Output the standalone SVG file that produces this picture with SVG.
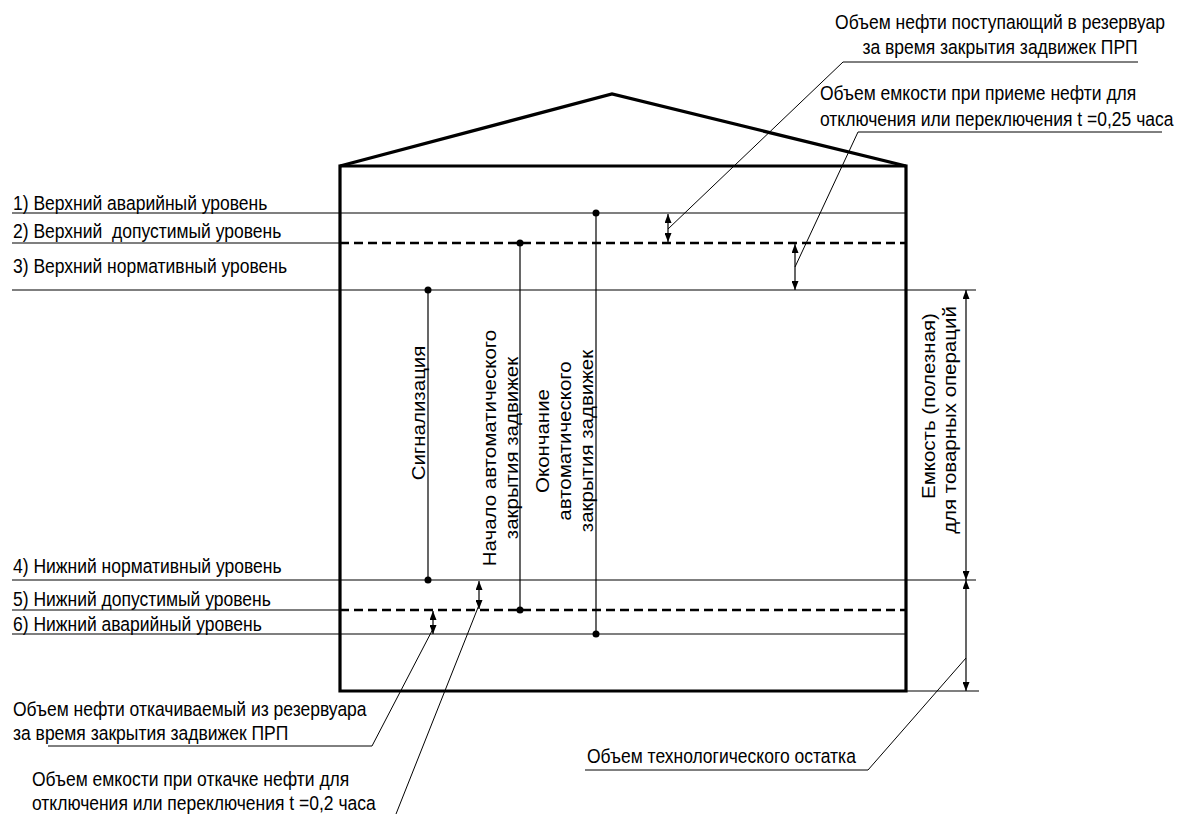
<svg xmlns="http://www.w3.org/2000/svg" width="1184" height="814" viewBox="0 0 1184 814">
<style>
text{font-family:"Liberation Sans",Arial,sans-serif;font-size:17.5px;fill:#000}
.thick{fill:none;stroke:#000;stroke-width:3.2;stroke-linejoin:miter}
.thin{fill:none;stroke:#000;stroke-width:1.2}
.dash{fill:none;stroke:#000;stroke-width:2.6;stroke-dasharray:9 5}
.lead{fill:none;stroke:#000;stroke-width:1}
.dim{fill:none;stroke:#000;stroke-width:1.2;marker-start:url(#ah);marker-end:url(#ah)}
.dot{fill:#000}
</style>
<defs>
<marker id="ah" viewBox="0 0 9 7" refX="9" refY="3.5" markerWidth="9" markerHeight="7" markerUnits="userSpaceOnUse" orient="auto-start-reverse">
<path d="M0,0 L9,3.5 L0,7 z" fill="#000"/>
</marker>
</defs>
<rect width="1184" height="814" fill="#fff"/>
<g id="tank">
<polyline class="thick" points="340,166 612,94 906,166"/>
<path class="thick" d="M340,691 V166 H906 V691 Z"/>
</g>
<g id="levels">
<line class="thin" x1="12" y1="213" x2="906" y2="213"/>
<line class="thin" x1="12" y1="243" x2="340" y2="243"/>
<line class="dash" x1="340" y1="243" x2="906" y2="243"/>
<line class="thin" x1="12" y1="290" x2="976" y2="290"/>
<line class="thin" x1="12" y1="580" x2="976" y2="580"/>
<line class="thin" x1="12" y1="610" x2="340" y2="610"/>
<line class="dash" x1="340" y1="610" x2="906" y2="610"/>
<line class="thin" x1="12" y1="634" x2="906" y2="634"/>
<line class="thin" x1="906" y1="691" x2="979" y2="691"/>
</g>
<g id="connectors">
<line class="thin" x1="428" y1="290" x2="428" y2="580"/>
<line class="thin" x1="520" y1="243" x2="520" y2="610"/>
<line class="thin" x1="596" y1="213" x2="596" y2="634"/>
<circle class="dot" cx="428" cy="290" r="3.5"/>
<circle class="dot" cx="428" cy="580" r="3.5"/>
<circle class="dot" cx="520" cy="243" r="3.5"/>
<circle class="dot" cx="520" cy="610" r="3.5"/>
<circle class="dot" cx="596" cy="213" r="3.5"/>
<circle class="dot" cx="596" cy="634" r="3.5"/>
<line class="dim" x1="668" y1="214" x2="668" y2="242"/>
<line class="dim" x1="795" y1="244" x2="795" y2="290"/>
<line class="dim" x1="479" y1="581" x2="479" y2="609"/>
<line class="dim" x1="433" y1="611" x2="433" y2="634"/>
<line class="dim" x1="966" y1="290" x2="966" y2="580"/>
<line class="dim" x1="966" y1="580" x2="966" y2="691"/>
<polyline class="lead" points="1138,62 843,62 668,229"/>
<polyline class="lead" points="1162,132 858,132 795,267"/>
<polyline class="lead" points="48,746 372,746 435,625"/>
<polyline class="lead" points="396,814 479,605"/>
<polyline class="lead" points="585,770 868,770 966,658"/>
</g>
<g id="level-labels">
<text transform="translate(13,210) scale(1,1.17)">1) Верхний аварийный уровень</text>
<text transform="translate(13,238) scale(1,1.17)" xml:space="preserve">2) Верхний  допустимый уровень</text>
<text transform="translate(13,273) scale(1,1.17)">3) Верхний нормативный уровень</text>
<text transform="translate(13,573) scale(1,1.17)">4) Нижний нормативный уровень</text>
<text transform="translate(13,606) scale(1,1.17)">5) Нижний допустимый уровень</text>
<text transform="translate(13,631) scale(1,1.17)">6) Нижний аварийный уровень</text>
</g>
<g id="label-inflow">
<text transform="translate(1000,29) scale(1,1.17)" text-anchor="middle">Объем нефти поступающий в резервуар</text>
<text transform="translate(1000,54) scale(1,1.17)" text-anchor="middle">за время закрытия задвижек ПРП</text>
</g>
<g id="label-intake">
<text transform="translate(820,100) scale(1,1.17)">Объем емкости при приеме нефти для</text>
<text transform="translate(820,126) scale(1,1.17)">отключения или переключения t =0,25 часа</text>
</g>
<g id="label-outflow">
<text transform="translate(13,716) scale(1,1.17)">Объем нефти откачиваемый из резервуара</text>
<text transform="translate(13,740) scale(1,1.17)">за время закрытия задвижек ПРП</text>
</g>
<g id="label-pumpout">
<text transform="translate(32,786) scale(1,1.17)">Объем емкости при откачке нефти для</text>
<text transform="translate(32,810) scale(1,1.17)">отключения или переключения t =0,2 часа</text>
</g>
<g id="label-residue">
<text transform="translate(587,763) scale(1,1.17)">Объем технологического остатка</text>
</g>
<g id="label-signal">
<text transform="translate(425,413) scale(1,1.17) rotate(-90)" text-anchor="middle">Сигнализация</text>
</g>
<g id="label-start">
<text transform="translate(496,448) scale(1,1.17) rotate(-90)" text-anchor="middle">Начало автоматического</text>
<text transform="translate(518,448) scale(1,1.17) rotate(-90)" text-anchor="middle">закрытия задвижек</text>
</g>
<g id="label-end">
<text transform="translate(549,441) scale(1,1.17) rotate(-90)" text-anchor="middle">Окончание</text>
<text transform="translate(571,441) scale(1,1.17) rotate(-90)" text-anchor="middle">автоматического</text>
<text transform="translate(593,441) scale(1,1.17) rotate(-90)" text-anchor="middle">закрытия задвижек</text>
</g>
<g id="label-capacity">
<text transform="translate(935,406) scale(1,1.17) rotate(-90)" text-anchor="middle">Емкость (полезная)</text>
<text transform="translate(956,420) scale(1,1.17) rotate(-90)" text-anchor="middle">для товарных операций</text>
</g>
</svg>
